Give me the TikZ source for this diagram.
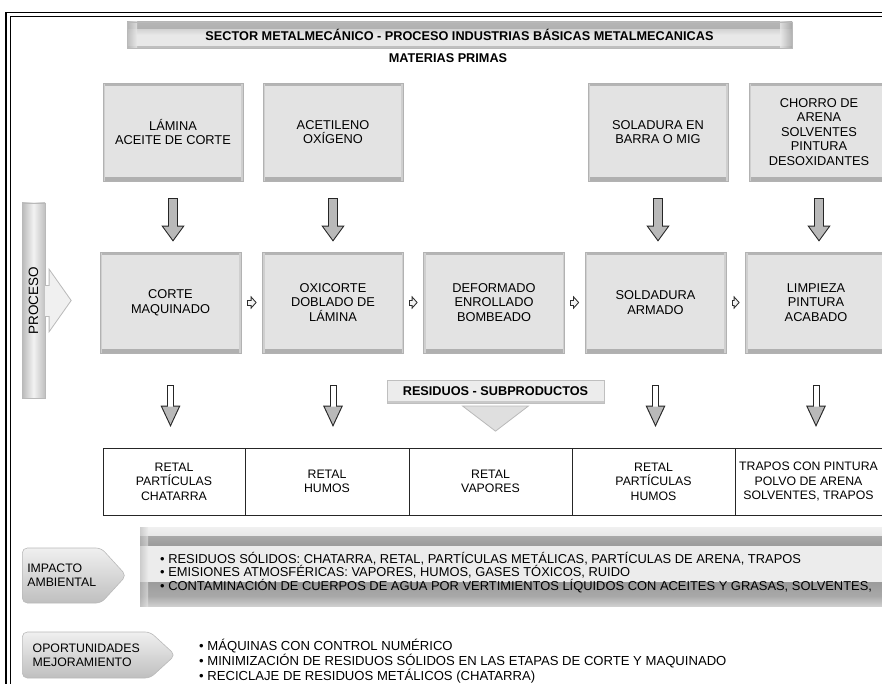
\documentclass[tikz,border=0pt]{standalone}
\usepackage{fontspec}
\setmainfont{Liberation Sans}
\usetikzlibrary{arrows.meta,shapes.symbols}

\newcommand\ftbody{\fontsize{12.8}{14.5}\selectfont}
\newcommand\ftcell{\fontsize{12.3}{14.5}\selectfont}
\newcommand\fttitle{\fontsize{12.7}{15}\selectfont\bfseries}
\newcommand\ftlist{\fontsize{12.9}{12.5}\selectfont}
\newcommand\ftopp{\fontsize{13.1}{13}\selectfont}
\newcommand\fttag{\fontsize{12.3}{14}\selectfont}

\newcommand\fatdownarrow[2]{\draw[fatout] (#1) -- (#2); \draw[fatin] (#1) -- (#2);}
\newcommand\resdownarrow[2]{\draw[resout] (#1) -- (#2); \draw[resin] (#1) -- (#2);}
\newcommand\smallrightarrow[2]{\draw[smallout] (#1) -- (#2); \draw[smallin] (#1) -- (#2);}

\tikzset{
  graybox/.style={draw=gray!60, line width=0.6pt, fill=gray!22, align=center, font=\ftbody, inner sep=2pt,
    path picture={
      \fill[gray!58] (path picture bounding box.north west) rectangle ([yshift=-3.5pt]path picture bounding box.north east);
      \fill[gray!62] (path picture bounding box.south west) rectangle ([yshift=4pt]path picture bounding box.south east);
      \fill[gray!38] (path picture bounding box.south west) rectangle ([xshift=2pt]path picture bounding box.north west);
      \fill[gray!38] (path picture bounding box.south east) rectangle ([xshift=-2pt]path picture bounding box.north east);
    }},
  mbox/.style={graybox, minimum width=140pt, minimum height=98pt},
  pbox/.style={graybox, minimum width=141pt, minimum height=101pt},
  cell/.style={draw=gray!30!black, line width=0.7pt, align=center, font=\ftcell, minimum height=67pt, inner sep=1pt},
  fatout/.style={draw=gray!30!black, line width=10pt, shorten <=17pt, shorten >=10pt, -{Triangle[length=16pt,width=22pt]}},
  fatin/.style={draw=gray!55, line width=8pt, shorten <=18pt, shorten >=11.8pt, -{Triangle[length=13.2pt,width=18.2pt]}},
  resout/.style={draw=gray!30!black, line width=7pt, shorten <=32pt, shorten >=20pt, -{Triangle[length=22pt,width=18pt]}},
  resin/.style={draw=white, line width=5pt, shorten <=33pt, shorten >=22.65pt, -{Triangle[length=18.35pt,width=15pt,color=gray!55]}},
  smallout/.style={draw=gray!35!black, line width=6pt, shorten <=5.5pt, shorten >=5.5pt, -{Triangle[length=6pt,width=13pt]}},
  smallin/.style={draw=gray!10, line width=4pt, shorten <=6.5pt, shorten >=6.9pt, -{Triangle[length=3.7pt,width=8pt]}},
  bigout/.style={draw=gray!55, line width=32pt, shorten >=28pt, -{Triangle[length=23pt,width=64pt]}},
  bigin/.style={draw=gray!12, line width=30pt, shorten >=29.2pt, -{Triangle[length=20.8pt,width=58pt]}},
  bigtri/.style={draw=gray!25, line width=0.2pt, shorten <=3pt, shorten >=16pt, -{Triangle[length=26pt,width=68pt,fill=gray!25,color=gray!55,line width=0.8pt]}},
  procbar/.style={draw=gray!55, line width=0.6pt, left color=gray!55, right color=gray!50, middle color=gray!10, font=\fontsize{13.5}{15}\selectfont, minimum width=23pt, minimum height=195pt, inner sep=0pt},
  titlebar/.style={fill=gray!18, draw=gray!55, line width=0.4pt, font=\fttitle,
    path picture={
      \shade[top color=gray!58, bottom color=gray!72] (path picture bounding box.north west) rectangle ([yshift=-8pt]path picture bounding box.north east);
      \shade[top color=gray!32, bottom color=gray!15] ([yshift=-8pt]path picture bounding box.north west) rectangle ([yshift=-14pt]path picture bounding box.north east);
      \fill[gray!50] (path picture bounding box.south west) rectangle ([yshift=2pt]path picture bounding box.south east);
      \shade[left color=gray!18, right color=gray!70, opacity=0.8] ([xshift=-12pt]path picture bounding box.south east) rectangle (path picture bounding box.north east);
      \shade[left color=gray!60, right color=gray!18, opacity=0.8] (path picture bounding box.south west) rectangle ([xshift=10pt]path picture bounding box.north west);
    }},
  resbar/.style={fill=gray!15, draw=gray!50, line width=1pt, font=\fttitle, minimum width=217pt, minimum height=23pt,
    path picture={
      \fill[gray!42] (path picture bounding box.south west) rectangle ([yshift=2.5pt]path picture bounding box.south east);
    }},
  band/.style={fill=gray!15, draw=none,
    path picture={
      \shade[top color=gray!12, bottom color=gray!68] (path picture bounding box.north west) rectangle ([yshift=-9pt]path picture bounding box.north east);
      \shade[top color=gray!68, bottom color=gray!78] ([yshift=-9pt]path picture bounding box.north west) rectangle ([yshift=-18pt]path picture bounding box.north east);
      \shade[top color=gray!78, bottom color=gray!68] ([yshift=24pt]path picture bounding box.south west) rectangle ([yshift=10pt]path picture bounding box.south east);
      \shade[top color=gray!68, bottom color=gray!38] ([yshift=10pt]path picture bounding box.south west) rectangle (path picture bounding box.south east);
      \shade[left color=gray!55, right color=gray!15, opacity=0.6] (path picture bounding box.south west) rectangle ([xshift=8pt]path picture bounding box.north west);
    }},
  tag/.style={signal, signal to=east, top color=gray!12, bottom color=gray!50, draw=gray!55, line width=0.6pt, rounded corners=5pt, align=left, font=\fttag, anchor=west, inner xsep=5pt},
}

\begin{document}
\begin{tikzpicture}[x=1pt,y=-1pt]
\useasboundingbox (0,0) rectangle (882,684);
\clip (0,0) rectangle (882,684);

% frame
\draw[line width=1.3pt] (6,684) -- (6,12.5) -- (882,12.5);
\draw[line width=0.8pt] (10.5,684) -- (10.5,16) -- (882,16);

% title
\node[titlebar, minimum width=665pt, minimum height=26pt] (title) at (459.5,35) {SECTOR METALMECÁNICO - PROCESO INDUSTRIAS BÁSICAS METALMECANICAS};
\node[font=\fttitle] (mp) at (448,58) {MATERIAS PRIMAS};

% materias primas
\node[mbox] (m1) at (173,132) {LÁMINA\\ACEITE DE CORTE};
\node[mbox] (m2) at (333,132) {ACETILENO\\OXÍGENO};
\node[mbox] (m3) at (658,132) {SOLADURA EN\\BARRA O MIG};
\node[mbox] (m4) at (819,132) {CHORRO DE\\ARENA\\SOLVENTES\\PINTURA\\DESOXIDANTES};

% proceso
\node[pbox] (p1) at (170.5,302.5) {CORTE\\MAQUINADO};
\node[pbox] (p2) at (333,302.5) {OXICORTE\\DOBLADO DE\\LÁMINA};
\node[pbox] (p3) at (494,302.5) {DEFORMADO\\ENROLLADO\\BOMBEADO};
\node[pbox] (p4) at (655.5,302.5) {SOLDADURA\\ARMADO};
\node[pbox] (p5) at (816,302.5) {LIMPIEZA\\PINTURA\\ACABADO};

\fatdownarrow{m1.south}{m1.south |- p1.north}
\fatdownarrow{m2.south}{m2.south |- p2.north}
\fatdownarrow{m3.south}{m3.south |- p4.north}
\fatdownarrow{m4.south}{m4.south |- p5.north}

\smallrightarrow{p1.east}{p2.west}
\smallrightarrow{p2.east}{p3.west}
\smallrightarrow{p3.east}{p4.west}
\smallrightarrow{p4.east}{p5.west}

% proceso bar
\node[procbar] (proc) at (33.5,300.5) {\rotatebox{90}{PROCESO}};
\draw[bigout] (proc.east) -- (proc.east -| p1.west);
\draw[bigin] (proc.east) -- (proc.east -| p1.west);

% table
\node[cell, minimum width=142pt] (t1) at (174,481.5) {RETAL\\PARTÍCULAS\\CHATARRA};
\node[cell, minimum width=164pt] (t2) at (327,481.5) {RETAL\\HUMOS};
\node[cell, minimum width=163pt] (t3) at (490.5,481.5) {RETAL\\VAPORES};
\node[cell, minimum width=163pt] (t4) at (653.5,481.5) {RETAL\\PARTÍCULAS\\HUMOS};
\node[cell, minimum width=147pt] (t5) at (808.5,481.5) {TRAPOS CON PINTURA\\POLVO DE ARENA\\SOLVENTES, TRAPOS};

\resdownarrow{p1.south}{p1.south |- t1.north}
\resdownarrow{p2.south}{p2.south |- t2.north}
\resdownarrow{p4.south}{p4.south |- t4.north}
\resdownarrow{p5.south}{p5.south |- t5.north}

% residuos banner
\node[resbar] (res) at (495.5,391.5) {RESIDUOS - SUBPRODUCTOS};
\draw[bigtri] (res.south) -- (res.south |- t3.north);

% impacto ambiental
\node[band, minimum width=760pt, minimum height=79pt, anchor=west] (band) at (140,566.5) {};
\node[anchor=west, align=left, font=\ftlist, inner sep=0pt] (impt) at (160,572.5) {• RESIDUOS SÓLIDOS: CHATARRA, RETAL, PARTÍCULAS METÁLICAS, PARTÍCULAS DE ARENA, TRAPOS\\• EMISIONES ATMOSFÉRICAS: VAPORES, HUMOS, GASES TÓXICOS, RUIDO\\• CONTAMINACIÓN DE CUERPOS DE AGUA  POR VERTIMIENTOS  LÍQUIDOS CON ACEITES Y GRASAS, SOLVENTES,};
\node[tag, signal pointer angle=95, minimum width=103pt, minimum height=55pt] (imp) at (22,575.5) {IMPACTO\\AMBIENTAL};

% oportunidades
\node[tag, signal pointer angle=85, minimum width=153pt, minimum height=46pt] (opp) at (22,655) {OPORTUNIDADES\\MEJORAMIENTO};
\node[anchor=west, align=left, font=\ftopp, inner sep=0pt] (oppt) at (199,661) {• MÁQUINAS CON CONTROL NUMÉRICO\\• MINIMIZACIÓN DE RESIDUOS SÓLIDOS EN LAS ETAPAS DE CORTE Y MAQUINADO\\• RECICLAJE  DE  RESIDUOS METÁLICOS (CHATARRA)};
\end{tikzpicture}
\end{document}
